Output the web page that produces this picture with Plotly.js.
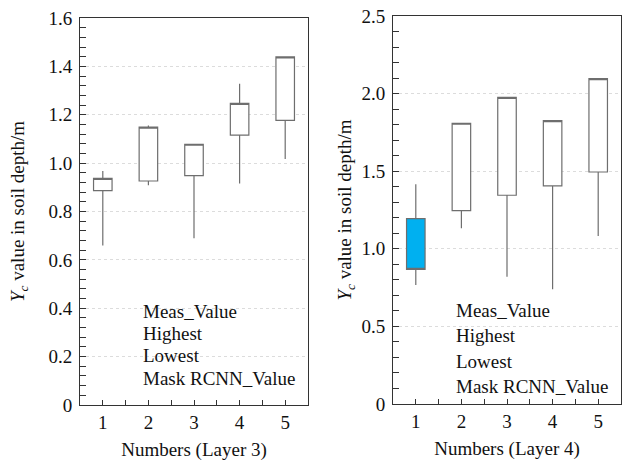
<!DOCTYPE html>
<html><head><meta charset="utf-8">
<script src="https://cdn.plot.ly/plotly-3.0.1.min.js"></script>
<style>html,body{margin:0;padding:0;background:#fff}#c{width:629px;height:464px}</style>
</head><body><div id="c"></div>
<script>
// Layer 3
const numbers = [1, 2, 3, 4, 5];
const l3_meas = [0.886, 0.926, 0.948, 1.116, 1.177];
const l3_high = [0.967, 1.156, 1.078, 1.328, 1.439];
const l3_low = [0.659, 0.909, 0.689, 0.916, 1.017];
const l3_rcnn = [0.937, 1.149, 1.078, 1.247, 1.439];
// Layer 4
const l4_meas = [1.194, 1.246, 1.345, 1.405, 1.495];
const l4_high = [1.416, 1.809, 1.976, 1.826, 2.096];
const l4_low = [0.767, 1.132, 0.820, 0.739, 1.082];
const l4_rcnn = [0.868, 1.809, 1.976, 1.826, 2.096];

const l3_ticks = [0, 0.2, 0.4, 0.6, 0.8, 1.0, 1.2, 1.4, 1.6];
const l3_ticktext = ['0', '0.2', '0.4', '0.6', '0.8', '1.0', '1.2', '1.4', '1.6'];
const l4_ticks = [0, 0.5, 1.0, 1.5, 2.0, 2.5];
const l4_ticktext = ['0', '0.5', '1.0', '1.5', '2.0', '2.5'];
const legendLines = ['Meas_Value', 'Highest', 'Lowest', 'Mask RCNN_Value'];

const lineCol = '#6e6e6e';
function cs(open, high, low, close, xa, ya) {
  return {
    type: 'candlestick', x: numbers, open: open, high: high, low: low, close: close,
    xaxis: xa, yaxis: ya, whiskerwidth: 0, showlegend: false,
    increasing: {line: {color: lineCol, width: 1.2}, fillcolor: '#ffffff'},
    decreasing: {line: {color: lineCol, width: 1.2}, fillcolor: '#00b0f0'}
  };
}
const data = [
  cs(l3_meas, l3_high, l3_low, l3_rcnn, 'x', 'y'),
  cs(l4_meas, l4_high, l4_low, l4_rcnn, 'x2', 'y2')
];
const font = {family: "'Liberation Serif', 'Times New Roman', Times, serif", size: 19, color: '#111'};
function xax(dom, title) {
  return {
    domain: dom, range: [0.5, 5.5], tickvals: numbers, ticks: 'inside', ticklen: 5, tickcolor: '#333',
    showline: true, linecolor: '#333', linewidth: 1, mirror: true, showgrid: false, zeroline: false,
    rangeslider: {visible: false}, fixedrange: true,
    minor: {ticks: 'inside', dtick: 0.5, tick0: 0.5, ticklen: 5, tickcolor: '#333'},
    title: {text: title, font: font, standoff: 10}, tickfont: font
  };
}
function yax(dom, range, tv, tt, mdt, anchor, so) {
  return {
    domain: dom, range: range, tickvals: tv, ticktext: tt, ticks: 'inside', ticklen: 6, tickcolor: '#333',
    showline: true, linecolor: '#333', linewidth: 1, mirror: true, zeroline: false,
    showgrid: true, gridcolor: '#dcdcdc', griddash: '3px,3px', gridwidth: 1,
    minor: {ticks: 'inside', dtick: mdt, tick0: 0, ticklen: 6, tickcolor: '#333', showgrid: false},
    anchor: anchor, tickfont: font, ticklabelstandoff: 3,
    title: {text: '<i>Y</i><sub><i>c</i></sub> value in soil depth/m', font: font, standoff: so}
  };
}
const ann = [];
const leftY = [311, 333, 355, 378];
const rightY = [310, 335, 361, 386];
legendLines.forEach((t, i) => {
  ann.push({text: t, xref: 'paper', yref: 'paper', x: 141 / 629, y: 1 - leftY[i] / 464,
    xanchor: 'left', yanchor: 'middle', showarrow: false, font: font});
  ann.push({text: t, xref: 'paper', yref: 'paper', x: 454 / 629, y: 1 - rightY[i] / 464,
    xanchor: 'left', yanchor: 'middle', showarrow: false, font: font});
});
const layout = {
  width: 629, height: 464, margin: {l: 0, r: 0, t: 0, b: 0},
  paper_bgcolor: '#fff', plot_bgcolor: '#fff', font: font, boxgap: 0.42,
  showlegend: false,
  xaxis: xax([80 / 629, 308 / 629], 'Numbers (Layer 3)'),
  yaxis: yax([1 - 405 / 464, 1 - 18 / 464], [0, 1.6], l3_ticks, l3_ticktext, 0.04, 'x', 18),
  xaxis2: Object.assign(xax([393 / 629, 621 / 629], 'Numbers (Layer 4)'), {anchor: 'y2'}),
  yaxis2: yax([1 - 404 / 464, 1 - 16 / 464], [0, 2.5], l4_ticks, l4_ticktext, 0.1, 'x2', 4),
  annotations: ann,
  shapes: [
    {type: 'rect', layer: 'between', xref: 'paper', yref: 'paper', x0: 139 / 629, x1: 307 / 629,
      y0: 1 - 402 / 464, y1: 1 - 298 / 464, fillcolor: '#fff', line: {width: 0}},
    {type: 'rect', layer: 'between', xref: 'paper', yref: 'paper', x0: 452 / 629, x1: 620 / 629,
      y0: 1 - 401 / 464, y1: 1 - 297 / 464, fillcolor: '#fff', line: {width: 0}}
  ]
};
layout.xaxis.anchor = 'y';
Plotly.newPlot('c', data, layout, {staticPlot: true});
</script></body></html>
